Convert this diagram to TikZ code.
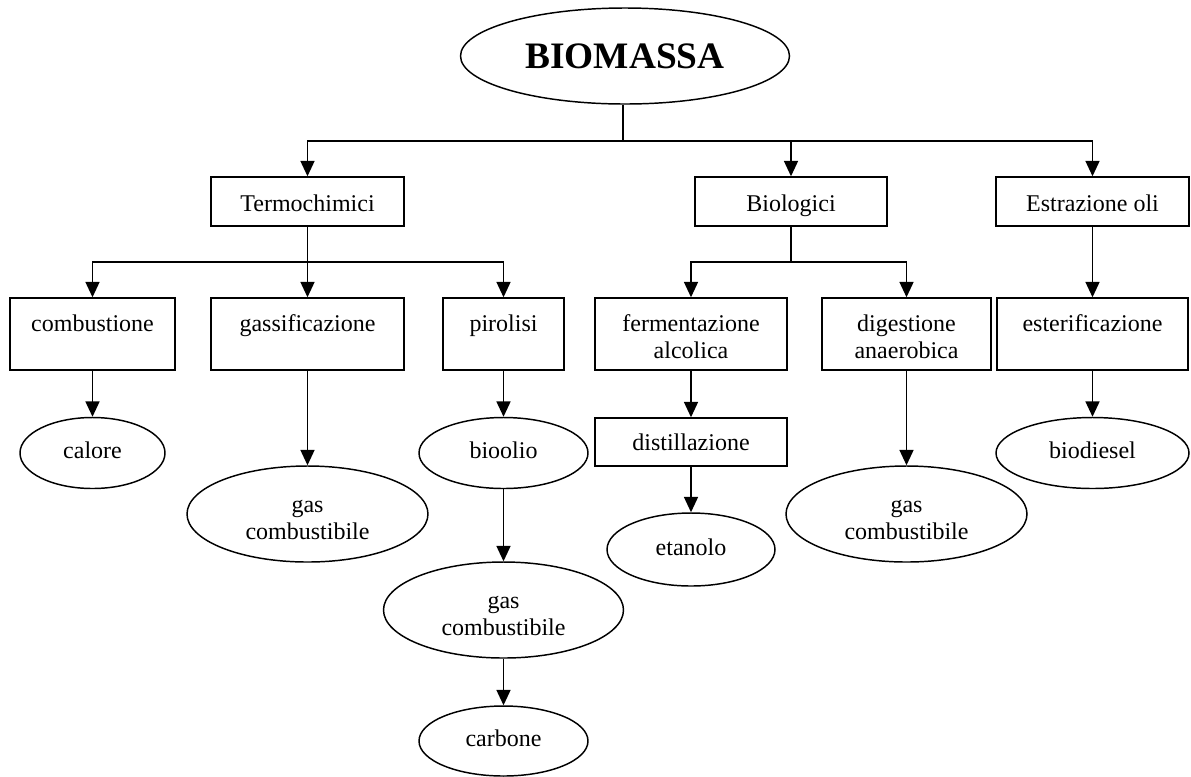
\documentclass[tikz,border=0pt]{standalone}
\usepackage{fontspec}
\setmainfont{Liberation Serif}
\usetikzlibrary{arrows.meta,shapes.geometric}
\begin{document}
\begin{tikzpicture}[x=0.75pt,y=-0.75pt,
  every node/.style={font=\fontsize{18pt}{20.25pt}\selectfont, inner sep=0pt, line width=1.1pt},
  box/.style={draw, rectangle},
  oval/.style={draw, ellipse},
  multi/.style={align=center},
  topbox/.style={box, minimum width=#1, minimum height=36.75pt, text height=18.25pt, text depth=4pt},
  midbox/.style={box, minimum width=#1, minimum height=54pt, text height=10pt, text depth=14.5pt},
  midbox2/.style={box, multi, minimum width=#1, minimum height=54pt},
  single/.style={oval, text height=12.3pt, text depth=3.9pt},
  conn/.style={line width=1.1pt},
  arr/.style={line width=1.1pt, -{Triangle[length=11.5pt,width=10.5pt]}}]
\useasboundingbox (0,0) rectangle (1191,776);

% top
\node[oval, minimum width=246.75pt, minimum height=72pt, font=\fontsize{28pt}{30pt}\selectfont\bfseries] (bio) at (625,56) {BIOMASSA};

% level 1
\node[topbox=144.75pt] (termo) at (307.5,201.5) {Termochimici};
\node[topbox=144pt] (biol) at (791,201.5) {Biologici};
\node[topbox=144.75pt] (estr) at (1092.5,201.5) {Estrazione oli};

% level 2
\node[midbox=123.75pt] (comb) at (92.5,334) {combustione};
\node[midbox=144.75pt] (gass) at (307.5,334) {gassificazione};
\node[midbox=90.75pt] (piro) at (503.5,334) {pirolisi};
\node[midbox2=144pt] (ferm) at (691,334) {\rule{0pt}{16.3pt}fermentazione\\alcolica};
\node[midbox2=126.75pt] (dige) at (906.5,334) {\rule{0pt}{16.3pt}digestione\\anaerobica};
\node[midbox=143.25pt] (este) at (1092.5,334) {esterificazione};

% level 3
\node[box, minimum width=144pt, minimum height=36pt, text height=16pt, text depth=4pt] (dist) at (691,442) {distillazione};
\node[single, minimum width=108.75pt, minimum height=53.25pt] (calore) at (92.5,453) {calore};
\node[oval, multi, minimum width=180.75pt, minimum height=72pt] (gasA) at (307.5,514) {\rule{0pt}{18.8pt}gas\\combustibile};
\node[single, minimum width=126.75pt, minimum height=53.25pt] (bioolio) at (503.5,453) {bioolio};
\node[oval, multi, minimum width=180pt, minimum height=72pt] (gasB) at (503.5,610) {\rule{0pt}{18.8pt}gas\\combustibile};
\node[single, minimum width=126.75pt, minimum height=52.5pt] (carbone) at (503.5,741) {carbone};
\node[single, minimum width=126pt, minimum height=54.75pt] (etanolo) at (691,549.5) {etanolo};
\node[oval, multi, minimum width=180.75pt, minimum height=72pt] (gasC) at (906.5,514) {\rule{0pt}{18.8pt}gas\\combustibile};
\node[single, minimum width=144.75pt, minimum height=53.25pt] (biodiesel) at (1092.5,453) {biodiesel};

% junctions
\coordinate (jtop) at (623,141);
\coordinate (jt) at (307.5,262);
\coordinate (jb) at (791,262);

\draw[conn] (bio.south -| jtop) -- (jtop);
\draw[arr] (jtop) -| (termo.north);
\draw[arr] (jtop) -| (biol.north);
\draw[arr] (jtop) -| (estr.north);

\draw[conn] (termo.south) -- (jt);
\draw[arr] (jt) -| (comb.north);
\draw[arr] (jt) -- (gass.north);
\draw[arr] (jt) -| (piro.north);

\draw[conn] (biol.south) -- (jb);
\draw[arr] (jb) -| (ferm.north);
\draw[arr] (jb) -| (dige.north);

\draw[arr] (estr.south) -- (este.north);

\draw[arr] (comb.south) -- (calore.north);
\draw[arr] (gass.south) -- (gasA.north);
\draw[arr] (piro.south) -- (bioolio.north);
\draw[arr] (bioolio.south) -- (gasB.north);
\draw[arr] (gasB.south) -- (carbone.north);
\draw[arr] (ferm.south) -- (dist.north);
\draw[arr] (dist.south) -- (etanolo.north);
\draw[arr] (dige.south) -- (gasC.north);
\draw[arr] (este.south) -- (biodiesel.north);
\end{tikzpicture}
\end{document}
